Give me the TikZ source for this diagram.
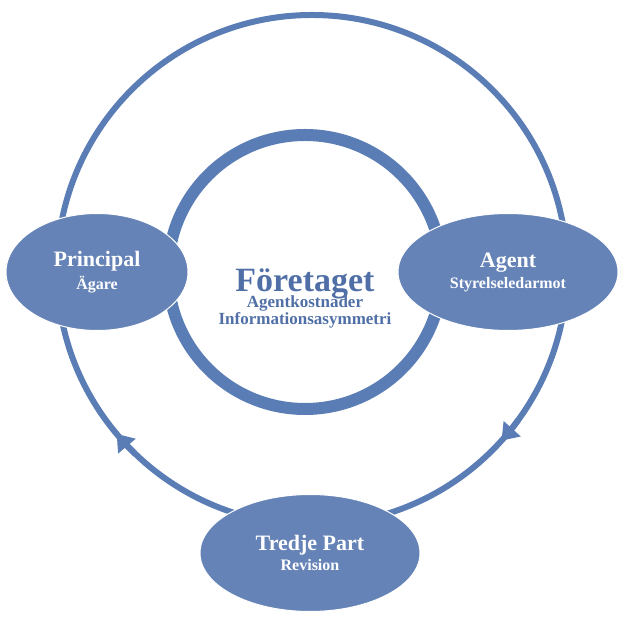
\documentclass[tikz,border=0pt]{standalone}
\usepackage{fontspec}
\setmainfont{Liberation Serif}
\usetikzlibrary{arrows.meta,shapes.geometric}
\definecolor{ringblue}{HTML}{5B7DB5}
\definecolor{blobblue}{HTML}{6583B7}
\definecolor{textblue}{HTML}{4F6FA6}
\begin{document}
\begin{tikzpicture}
      [
        x=1pt, y=1pt,
        blob/.style={ellipse, fill=blobblue, draw=white, line width=1pt,
          minimum width=#1, align=center, text=white, font=\bfseries},
        ringarrow/.style={draw=ringblue, line width=6pt,
          -{Triangle[length=16pt,width=22pt]}}
      ]
      \useasboundingbox (0,0) rectangle (626,626);
      \coordinate (c) at (312,356);

      \draw[ringblue, line width=6pt] (c) circle (255);
      \draw[ringarrow] ([shift={(226:255)}]c) arc (226:220:255);
      \draw[ringarrow] ([shift={(-36:255)}]c) arc (-36:-42:255);
      \draw[ringblue, line width=12pt] (305,354) circle (137);

      \node[blob=182pt, minimum height=117pt] (principal) at (97,354)
        {\fontsize{22}{26}\selectfont Principal\\[4pt]\fontsize{16}{18}\selectfont Ägare};
      \node[blob=220pt, minimum height=117pt] (agent) at (508,354)
        {\fontsize{22}{26}\selectfont Agent\\[4pt]\fontsize{16}{18}\selectfont Styrelseledarmot};
      \node[blob=220pt, minimum height=117pt] (tredje) at (310,73)
        {\fontsize{22}{26}\selectfont Tredje Part\\[4pt]\fontsize{16}{18}\selectfont Revision};

      \node[text=textblue, font=\bfseries, align=center] (foretaget) at (305,328)
        {\fontsize{34}{38}\selectfont Företaget\\[-4pt]
         \fontsize{17}{20}\selectfont Agentkostnader\\
         \fontsize{17}{20}\selectfont Informationsasymmetri};
    \end{tikzpicture}
\end{document}
